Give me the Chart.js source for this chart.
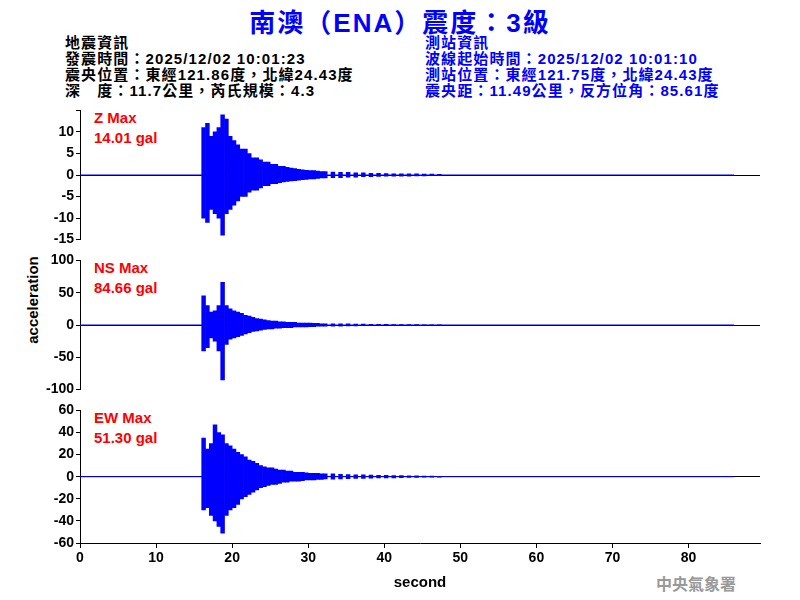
<!DOCTYPE html>
<html>
<head>
<meta charset="utf-8">
<script src="https://cdn.jsdelivr.net/npm/chart.js@4"></script>
<style>
body { margin: 0; background: #fff; width: 800px; height: 600px; position: relative; overflow: hidden; font-family: Arial, "Liberation Sans", sans-serif; }
canvas { position: absolute; left: 0; }
.txt { position: absolute; white-space: nowrap; font-family: "Liberation Sans", "Noto Sans CJK TC", sans-serif; font-weight: bold; }
.info { font-size: 15px; line-height: 16px; letter-spacing: 1.1px; }
.max { color: #ff0000; font-size: 15px; line-height: 20px; }
</style>
</head>
<body>
<div class="txt" style="left:0;width:800px;text-align:center;top:2px;font-size:26px;letter-spacing:2px;color:#0000ff;">南澳（ENA）震度：3級</div>
<div class="txt info" style="left:65px;top:35px;color:#000;">地震資訊<br>發震時間：2025/12/02 10:01:23<br>震央位置：東經121.86度，北緯24.43度<br>深　度：11.7公里，芮氏規模：4.3</div>
<div class="txt info" style="left:425px;top:35px;color:#0000ff;">測站資訊<br>波線起始時間：2025/12/02 10:01:10<br>測站位置：東經121.75度，北緯24.43度<br>震央距：11.49公里，反方位角：85.61度</div>
<div class="txt" style="left:32px;top:300px;font-size:15px;transform:translate(-50%,-50%) rotate(-90deg);">acceleration</div>
<div class="txt max" style="left:94px;top:108px;">Z Max<br>14.01 gal</div>
<div class="txt max" style="left:94px;top:258px;">NS Max<br>84.66 gal</div>
<div class="txt max" style="left:94px;top:408px;">EW Max<br>51.30 gal</div>
<div class="txt" style="left:656px;top:571px;font-size:16px;color:#999;font-family:'Noto Sans CJK TC',serif;">中央氣象署</div>

<canvas id="zChart" width="800" height="150" style="top:100px"></canvas>
<canvas id="nsChart" width="800" height="150" style="top:250px"></canvas>
<canvas id="ewChart" width="800" height="200" style="top:400px"></canvas>

<script>
// envelope bins: 0.5 s steps from 16.0 to 32.0, then 1 s steps from 33 to 47
const fineTimes = [16,16.5,17,17.5,18,18.5,19,19.5,20,20.5,21,21.5,22,22.5,23,23.5,24,24.5,25,25.5,26,26.5,27,27.5,28,28.5,29,29.5,30,30.5,31,31.5,32];
const coarseTimes = [33,34,35,36,37,38,39,40,41,42,43,44,45,46,47];

const zHi = [11,12,9,10,11,14,13,9,8,7,6,6,5,4,4,3.5,3,3,2.5,2.5,2,2,1.8,1.6,1.5,1.3,1.2,1.1,1,1,0.9,0.8,0.8, 0.7,0.6,0.6,0.5,0.5,0.4,0.4,0.35,0.3,0.3,0.25,0.25,0.2,0.2,0.15];
const zLo = [-10,-11,-8,-9,-10,-14,-9,-8,-7,-6,-5,-5,-4,-3.5,-3.5,-3,-2.5,-2.5,-2,-2,-1.8,-1.6,-1.5,-1.4,-1.3,-1.2,-1.1,-1,-0.9,-0.9,-0.8,-0.7,-0.7, -0.6,-0.6,-0.5,-0.5,-0.4,-0.4,-0.35,-0.3,-0.3,-0.25,-0.25,-0.2,-0.2,-0.15,-0.15];
const nsHi = [45,30,20,22,30,66,30,25,22,20,18,15,14,12,10,9,8,7,6,6,5,5,4,4,4,3,3,3,3,2.5,2.5,2,2, 2,2,1.8,1.5,1.5,1.2,1,1,0.8,0.8,0.6,0.5,0.4,0.3,0.3];
const nsLo = [-40,-35,-20,-25,-40,-85,-30,-22,-20,-18,-16,-14,-12,-10,-9,-8,-7,-6,-6,-5,-5,-4,-4,-4,-3,-3,-3,-3,-2.5,-2.5,-2,-2,-2, -2,-1.8,-1.5,-1.5,-1.2,-1.2,-1,-0.8,-0.8,-0.6,-0.6,-0.5,-0.4,-0.3,-0.3];
const ewHi = [35,25,30,47,40,38,30,28,25,22,20,18,15,14,12,10,9,8,8,7,6,6,5,5,4,4,4,3.5,3,3,3,2.5,2.5, 2.5,2.2,2,1.8,1.6,1.5,1.3,1.2,1,1,0.8,0.7,0.6,0.5,0.4];
const ewLo = [-30,-28,-35,-40,-45,-51,-35,-30,-28,-25,-20,-18,-16,-14,-12,-10,-9,-8,-7,-7,-6,-5,-5,-4,-4,-4,-3.5,-3,-3,-3,-2.5,-2.5,-2, -2.2,-2,-1.8,-1.6,-1.5,-1.3,-1.2,-1,-1,-0.8,-0.7,-0.6,-0.5,-0.4,-0.4];

const xTicks = [0,10,20,30,40,50,60,70,80];
const recordEnd = 86;

// each bin is a floating bar from its low swing to its high swing
function buildBins(hi, lo) {
    const times = fineTimes.concat(coarseTimes);
    return times.map((t, i) => ({x: t + 0.25, y: [lo[i], hi[i]]}));
}

const font = {family: 'Arial, "Liberation Sans"', size: 14, weight: 'bold'};

function makePanel(id, hi, lo, yMin, yMax, step, showX, hideTop) {
    const ctx = document.getElementById(id).getContext('2d');
    const xScale = {
        type: 'linear', min: 0, max: 89.4,
        offset: false,
        display: showX,
        afterBuildTicks: s => { s.ticks = xTicks.map(v => ({value: v})); },
        grid: {offset: false, drawOnChartArea: false, color: '#000', tickLength: 5, tickColor: '#000'},
        border: {color: '#000', width: 1},
        ticks: {color: '#000', font: font, maxRotation: 0, padding: 2},
        title: {display: true, text: 'second', color: '#000', font: {family: font.family, size: 15, weight: 'bold'}, padding: {top: 4, bottom: 8}}
    };
    if (showX) xScale.afterFit = s => { s.height = 57; };
    return new Chart(ctx, {
        type: 'bar',
        data: {
            datasets: [{
                type: 'line',
                data: [{x: 0, y: 0}, {x: recordEnd, y: 0}],
                borderColor: '#0000ff',
                borderWidth: 1,
                pointRadius: 0
            }, {
                data: buildBins(hi, lo),
                backgroundColor: '#0000ff',
                borderWidth: 0,
                barPercentage: 1,
                categoryPercentage: 1
            }]
        },
        options: {
            responsive: false,
            animation: false,
            devicePixelRatio: 1,
            layout: {padding: {top: 7.5, right: 40, bottom: showX ? 0 : 7.5, left: 0}},
            plugins: {legend: {display: false}, tooltip: {enabled: false}},
            scales: {
                x: xScale,
                y: {
                    min: yMin, max: yMax,
                    afterFit: s => { s.width = 80; },
                    ticks: {
                        stepSize: step, autoSkip: false, color: '#000', font: font, padding: 2,
                        callback: v => (hideTop && v === yMax) ? '' : v
                    },
                    grid: {
                        color: c => c.tick && c.tick.value === 0 ? '#000' : 'rgba(0,0,0,0)',
                        tickColor: '#000', tickLength: 4, drawTicks: true
                    },
                    border: {color: '#000', width: 1}
                }
            }
        }
    });
}

makePanel('zChart', zHi, zLo, -15, 15, 5, false, true);
makePanel('nsChart', nsHi, nsLo, -100, 100, 50, false, false);
makePanel('ewChart', ewHi, ewLo, -60, 60, 20, true, false);
</script>
</body>
</html>
